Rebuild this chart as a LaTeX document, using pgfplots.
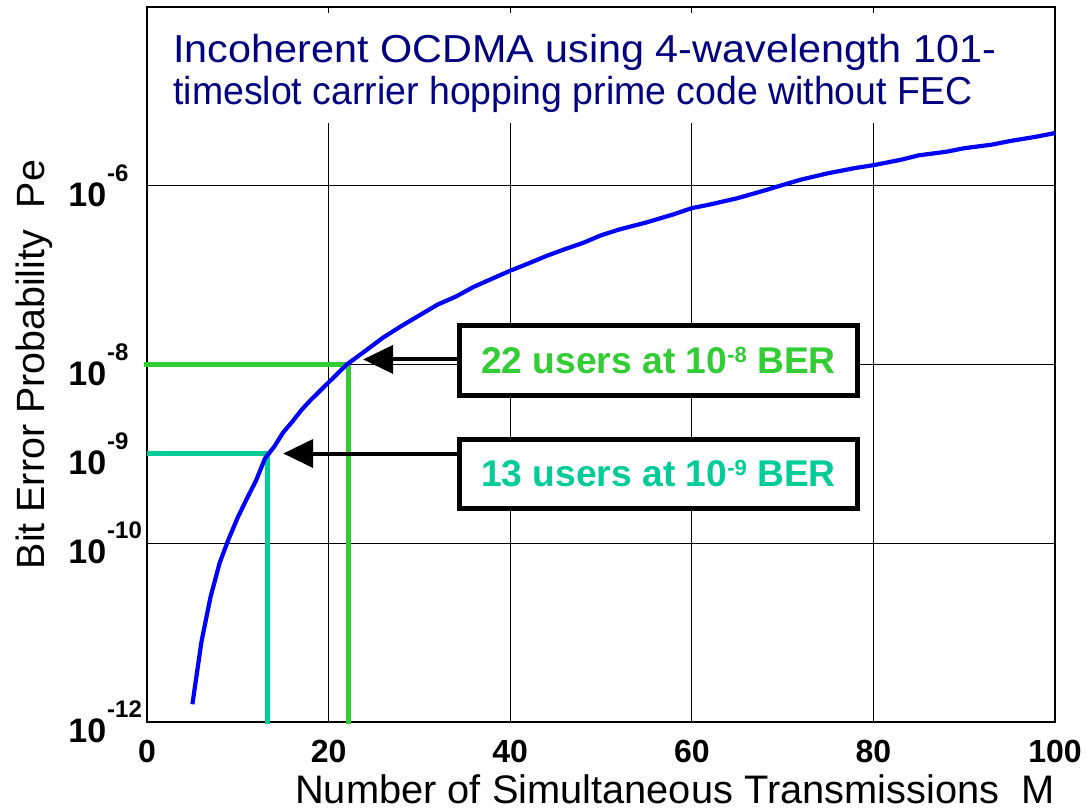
\documentclass[border=0pt]{standalone}
\usepackage{pgfplots}
\pgfplotsset{compat=1.18}
\usepackage{fontspec}
\setmainfont{Liberation Sans}
\usetikzlibrary{arrows.meta}
\definecolor{navyT}{RGB}{0,0,128}
\definecolor{greenL}{RGB}{50,205,50}
\definecolor{tealL}{RGB}{0,204,153}
\newcommand{\ylab}[1]{\textbf{10}\hspace{0.5pt}\raisebox{12.5pt}{\fontsize{12}{12}\selectfont\textbf{#1}}}
\begin{document}
\begin{tikzpicture}
\useasboundingbox (-73.5pt,-43.5pt) rectangle (469.5pt,361pt);
\begin{axis}[
  at={(0,0)}, anchor=south west,
  scale only axis, width=454pt, height=357.5pt,
  xmin=0, xmax=100, ymode=log, ymin=1e-12, ymax=1e-4,
  xtick={0,20,40,60,80,100}, xticklabels={0,20,40,60,80,100},
  ytick={1e-12,1e-10,1e-8,1e-6},
  yticklabels={\ylab{-12},\ylab{-10},\ylab{-8},\ylab{-6}},
  extra y ticks={1e-9}, extra y tick labels={\ylab{-9}},
  extra y tick style={grid=none, major tick length=0pt},
  yminorticks=false,
  grid=major, major grid style={black, line width=0.5pt},
  axis line style={line width=0.6pt},
  tick style={black, line width=0.5pt},
  xticklabel style={font=\fontsize{16}{16}\selectfont\bfseries, inner sep=0pt, anchor=north, yshift=-9pt},
  yticklabel style={font=\fontsize{17}{17}\selectfont, inner sep=0pt, anchor=west, xshift=-39.5pt},
  xlabel={Number of Simultaneous Transmissions\ \ M},
  xlabel style={font=\fontsize{19.9}{19.9}\selectfont, at={(axis description cs:1,-0.1133)}, anchor=base east, inner sep=0pt},
  ylabel={Bit Error Probability\ \ Pe},
  ylabel style={font=\fontsize{19.7}{19.7}\selectfont, at={(axis description cs:-0.11233,0.5)}, anchor=base, inner sep=0pt},
  clip=false,
]
\addplot[greenL, line width=2.5pt] coordinates {(-0.3,1e-8) (22.2,1e-8) (22.2,9.5e-13)};
\addplot[tealL, line width=2.5pt] coordinates {(0,1e-9) (13.3,1e-9) (13.3,9.5e-13)};
\addplot[blue, line width=2.1pt] coordinates {
(5,1.58e-12) (6,7.94e-12) (7,2.51e-11) (8,6.03e-11) (9,1.12e-10) (10,1.95e-10)
(11,3.16e-10) (12,5.01e-10) (13,8.91e-10) (14,1.20e-9) (15,1.74e-9) (16,2.29e-9)
(17,3.09e-9) (18,3.98e-9) (19,5.01e-9) (20,6.31e-9) (22,1.00e-8) (24,1.41e-8)
(26,2.00e-8) (28,2.69e-8) (30,3.55e-8) (32,4.68e-8) (34,5.75e-8) (36,7.41e-8)
(38,9.12e-8) (40,1.12e-7) (42,1.35e-7) (44,1.64e-7) (46,1.95e-7) (48,2.29e-7)
(50,2.79e-7) (52,3.24e-7) (55,3.89e-7) (58,4.79e-7) (60,5.62e-7) (62,6.17e-7)
(65,7.25e-7) (68,8.85e-7) (70,1.02e-6) (72,1.17e-6) (75,1.38e-6) (78,1.58e-6)
(80,1.70e-6) (83,1.95e-6) (85,2.19e-6) (88,2.40e-6) (90,2.63e-6) (93,2.88e-6)
(95,3.16e-6) (98,3.55e-6) (100,3.89e-6)};
\draw[line width=2pt, -{Triangle[length=15pt,width=14pt]}] (axis cs:35,1.14e-8) -- (axis cs:23.8,1.14e-8);
\draw[line width=2pt, -{Triangle[length=15pt,width=14pt]}] (axis cs:35,1.01e-9) -- (axis cs:15.0,1.01e-9);
\node[draw=black, line width=2.5pt, fill=white, minimum width=199pt, minimum height=34.5pt, inner sep=0pt, font=\fontsize{18.6}{18.6}\selectfont\bfseries, text=greenL] at (axis cs:56.33,1.109e-8) {22 users at 10\raisebox{5.6pt}{\fontsize{11}{11}\selectfont -8} BER};
\node[draw=black, line width=2.5pt, fill=white, minimum width=199pt, minimum height=34.5pt, inner sep=0pt, font=\fontsize{18.6}{18.6}\selectfont\bfseries, text=tealL] at (axis cs:56.33,5.975e-10) {13 users at 10\raisebox{5.6pt}{\fontsize{11}{11}\selectfont -9} BER};
\fill[white] (rel axis cs:0.0088,0.8378) rectangle (rel axis cs:0.983,0.9916);
\node[anchor=base west, inner sep=0pt, text=navyT, font=\fontsize{19.5}{19.5}\selectfont] at (rel axis cs:0.0286,0.923) {\scalebox{1.06}[1]{Incoherent OCDMA using 4-wavelength 101-}};
\node[anchor=base west, inner sep=0pt, text=navyT, font=\fontsize{19.5}{19.5}\selectfont] at (rel axis cs:0.0286,0.863) {\scalebox{0.96}[1]{timeslot carrier hopping prime code without FEC}};
\end{axis}
\end{tikzpicture}
\end{document}
